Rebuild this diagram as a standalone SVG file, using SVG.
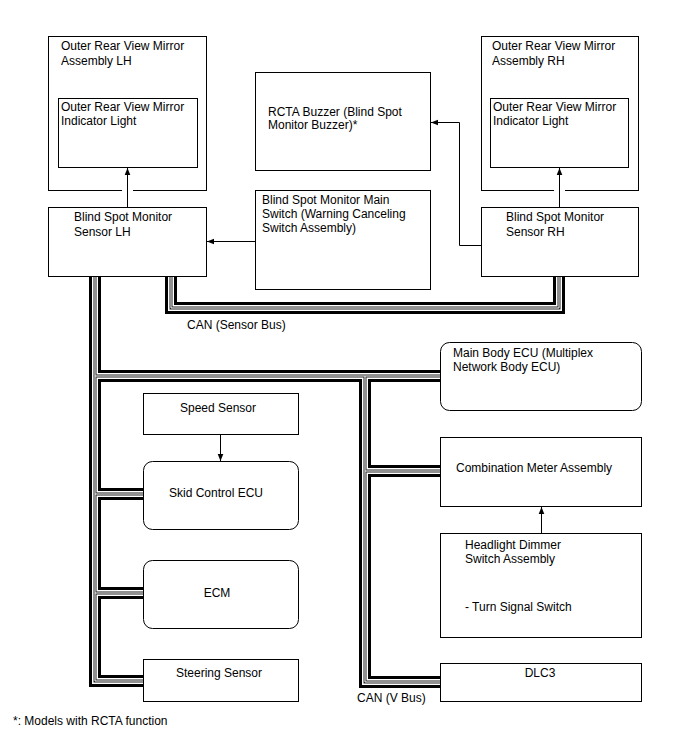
<svg xmlns="http://www.w3.org/2000/svg" xmlns:xlink="http://www.w3.org/1999/xlink" width="688" height="755" viewBox="0 0 688 755">
<style>
.box{fill:#fff;stroke:#000;stroke-width:1}
.t{font-family:"Liberation Sans",Arial,sans-serif;font-size:12px;fill:#000}
.m{text-anchor:middle}
.ln{fill:none;stroke:#000;stroke-width:1}
.b1{fill:none;stroke:#000;stroke-width:12}
.b2{fill:none;stroke:#fff;stroke-width:6}
.b3{fill:none;stroke:#222;stroke-width:3}
.b4{fill:none;stroke:#fff;stroke-width:1}
</style>
<defs>
<marker id="ah" viewBox="0 0 10 10" refX="10" refY="5" markerWidth="7" markerHeight="7" markerUnits="userSpaceOnUse" orient="auto">
<path d="M0,1 L10,5 L0,9 z" fill="#000"/>
</marker>
<path id="busMain" d="M95 276 V681 H143 M95 376 H440 M95 494 H143 M95 593 H143 M365 376 V682 H440 M365 471 H440"/>
<path id="busSensor" d="M171 276 V308 H559 V276"/>
</defs>
<rect width="688" height="755" fill="#fff"/>
<g id="connectors">
<use xlink:href="#busMain" class="b1"/>
<use xlink:href="#busMain" class="b2"/>
<use xlink:href="#busMain" class="b3"/>
<use xlink:href="#busMain" class="b4"/>
<use xlink:href="#busSensor" class="b1"/>
<use xlink:href="#busSensor" class="b2"/>
<use xlink:href="#busSensor" class="b3"/>
<use xlink:href="#busSensor" class="b4"/>
<path class="ln" d="M255 241.5 H207" marker-end="url(#ah)"/>
<path class="ln" d="M481 245.5 H459.5 V122.5 H431" marker-end="url(#ah)"/>
<path class="ln" d="M220.5 434 V461" marker-end="url(#ah)"/>
<path class="ln" d="M541.5 533 V507" marker-end="url(#ah)"/>
</g>
<g id="mirrorLH">
<rect class="box" x="48.5" y="36.5" width="158" height="154"/>
<text class="t" x="61" y="50">Outer Rear View Mirror</text>
<text class="t" x="61" y="65">Assembly LH</text>
</g>
<g id="indicatorLH">
<rect class="box" x="58.5" y="98.5" width="139" height="69"/>
<text class="t" x="61" y="111">Outer Rear View Mirror</text>
<text class="t" x="61" y="125">Indicator Light</text>
</g>
<g id="mirrorRH">
<rect class="box" x="481.5" y="36.5" width="157" height="154"/>
<text class="t" x="492" y="50">Outer Rear View Mirror</text>
<text class="t" x="492" y="65">Assembly RH</text>
</g>
<g id="indicatorRH">
<rect class="box" x="490.5" y="98.5" width="138" height="69"/>
<text class="t" x="493" y="111">Outer Rear View Mirror</text>
<text class="t" x="493" y="125">Indicator Light</text>
</g>
<g id="arrowsUp">
<line x1="122" y1="190.5" x2="133" y2="190.5" stroke="#fff" stroke-width="2"/>
<line x1="554" y1="190.5" x2="565" y2="190.5" stroke="#fff" stroke-width="2"/>
<path class="ln" d="M127.5 207 V168" marker-end="url(#ah)"/>
<path class="ln" d="M559.5 207 V168" marker-end="url(#ah)"/>
</g>
<g id="bsmLH">
<rect class="box" x="48.5" y="207.5" width="158" height="69"/>
<text class="t" x="74" y="221">Blind Spot Monitor</text>
<text class="t" x="74" y="236">Sensor LH</text>
</g>
<g id="bsmRH">
<rect class="box" x="481.5" y="207.5" width="157" height="69"/>
<text class="t" x="506" y="221">Blind Spot Monitor</text>
<text class="t" x="506" y="236">Sensor RH</text>
</g>
<g id="buzzer">
<rect class="box" x="255.5" y="72.5" width="175" height="98"/>
<text class="t" x="268" y="116">RCTA Buzzer (Blind Spot</text>
<text class="t" x="268" y="129">Monitor Buzzer)*</text>
</g>
<g id="mainSwitch">
<rect class="box" x="255.5" y="190.5" width="175" height="99"/>
<text class="t" x="262" y="204">Blind Spot Monitor Main</text>
<text class="t" x="262" y="218">Switch (Warning Canceling</text>
<text class="t" x="262" y="232">Switch Assembly)</text>
</g>
<g id="mainBody">
<rect class="box" x="440.5" y="342.5" width="201" height="68" rx="9"/>
<text class="t" x="453" y="357">Main Body ECU (Multiplex</text>
<text class="t" x="453" y="371">Network Body ECU)</text>
</g>
<g id="combMeter">
<rect class="box" x="440.5" y="437.5" width="201" height="69"/>
<text class="t" x="456" y="472">Combination Meter Assembly</text>
</g>
<g id="headlight">
<rect class="box" x="440.5" y="533.5" width="201" height="104"/>
<text class="t" x="465" y="549">Headlight Dimmer</text>
<text class="t" x="465" y="563">Switch Assembly</text>
<text class="t" x="465" y="611">- Turn Signal Switch</text>
</g>
<g id="dlc3">
<rect class="box" x="440.5" y="663.5" width="201" height="38"/>
<text class="t m" x="540" y="677">DLC3</text>
</g>
<g id="speedSensor">
<rect class="box" x="143.5" y="393.5" width="155" height="41"/>
<text class="t m" x="218" y="412">Speed Sensor</text>
</g>
<g id="skid">
<rect class="box" x="143.5" y="461.5" width="155" height="68" rx="9"/>
<text class="t m" x="216" y="497">Skid Control ECU</text>
</g>
<g id="ecm">
<rect class="box" x="143.5" y="560.5" width="155" height="68" rx="9"/>
<text class="t m" x="217" y="597">ECM</text>
</g>
<g id="steering">
<rect class="box" x="143.5" y="659.5" width="155" height="42"/>
<text class="t m" x="219" y="677">Steering Sensor</text>
</g>
<g id="labels">
<text class="t" x="187" y="329">CAN (Sensor Bus)</text>
<text class="t" x="357" y="702">CAN (V Bus)</text>
<text class="t" x="13" y="725">*: Models with RCTA function</text>
</g>
</svg>
